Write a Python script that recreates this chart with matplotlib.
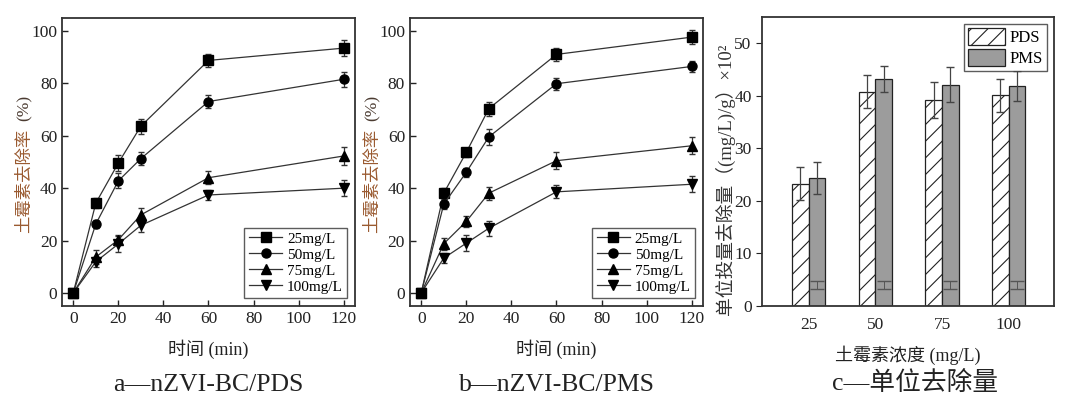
"""
Oxytetracycline removal by nZVI-BC with PDS / PMS: kinetics (a, b) and unit removal (c).
"""

import matplotlib
matplotlib.use("Agg")
import matplotlib.pyplot as plt
from matplotlib.lines import Line2D
import numpy as np

plt.rcParams["font.family"] = ["Liberation Serif", "Noto Sans CJK SC"]
plt.rcParams["hatch.linewidth"] = 0.8

# ── data ────────────────────────────────────────────────────
time_min = [0, 10, 20, 30, 60, 120]
conc_labels = ["25mg/L", "50mg/L", "75mg/L", "100mg/L"]
markers = ["s", "o", "^", "v"]

pds_removal = [
    [0, 34.3, 49.6, 63.7, 88.8, 93.5],
    [0, 26.3, 42.8, 51.3, 73.1, 81.6],
    [0, 13.7, 20.3, 29.8, 44.0, 52.3],
    [0, 11.9, 18.7, 25.8, 37.4, 40.0],
]
pds_err = [
    [0.8, 2.0, 3.0, 2.9, 2.5, 3.2],
    [0.8, 1.5, 2.9, 2.6, 2.4, 2.8],
    [0.8, 2.8, 2.0, 2.5, 2.5, 3.5],
    [0.8, 2.0, 3.0, 2.7, 2.0, 3.1],
]

pms_removal = [
    [0, 38.1, 53.7, 70.4, 91.1, 97.7],
    [0, 33.9, 46.1, 59.6, 79.9, 86.5],
    [0, 18.8, 27.3, 38.1, 50.5, 56.2],
    [0, 13.3, 19.0, 24.7, 38.6, 41.5],
]
pms_err = [
    [0.8, 2.0, 1.7, 2.7, 2.5, 2.7],
    [0.8, 2.0, 1.8, 3.0, 2.3, 2.0],
    [0.8, 2.3, 2.2, 2.5, 3.2, 3.2],
    [0.8, 2.0, 3.0, 2.8, 2.5, 3.0],
]

bar_cats = ["25", "50", "75", "100"]
unit_pds = [23.3, 40.8, 39.2, 40.1]
unit_pds_err = [3.2, 3.1, 3.5, 3.2]
unit_pms = [24.4, 43.2, 42.1, 41.9]
unit_pms_err = [3.0, 2.5, 3.3, 2.8]
pms_base = [4.0, 4.0, 4.0, 4.0]
pms_base_err = [0.7, 0.7, 0.7, 0.7]

TXT = "#222222"
LABEL_BROWN = "#9a5a30"

fig = plt.figure(figsize=(10.8, 4.03), dpi=100)


def kinetics_panel(rect, series, errs, caption):
    ax = fig.add_axes(rect)
    handles = []
    for vals, err, m, lab in zip(series, errs, markers, conc_labels):
        ax.errorbar(time_min, vals, yerr=err, fmt=m + "-", color="#333333",
                    mfc="black", mec="black", ms=6.5, lw=0.9,
                    elinewidth=0.9, capsize=2.5)
        handles.append(Line2D([], [], marker=m, color="#333333", mfc="black",
                              mec="black", ms=6.5, lw=0.9, label=lab))
    ax.set_xlim(-5, 125)
    ax.set_ylim(-5, 105)
    ax.set_xticks([0, 20, 40, 60, 80, 100, 120])
    ax.set_yticks([0, 20, 40, 60, 80, 100])
    ax.tick_params(direction="in", length=4, labelsize=12.5, colors=TXT, width=1)
    for s in ax.spines.values():
        s.set_linewidth(1.3)
        s.set_color("#333333")
    ax.set_xlabel("时间 (min)", fontsize=13, color=TXT, labelpad=9)
    leg = ax.legend(handles=handles, loc="lower right", fontsize=11,
                    frameon=True, fancybox=False, edgecolor="#333333",
                    borderpad=0.3, labelspacing=0.15, handlelength=2.2,
                    handletextpad=0.3, borderaxespad=0.5)
    leg.get_frame().set_linewidth(1.0)
    bb = ax.get_position()
    xl = bb.x0 - 37 / 1080
    fig.text(xl, 0.551, "土霉素去除率", rotation=90, ha="center", va="center",
             fontsize=12.5, color=LABEL_BROWN)
    fig.text(xl, 0.732, "(%)", rotation=90, ha="center", va="center",
             fontsize=12.5, color="#4a3a30")
    fig.text(bb.x0 + bb.width / 2, 0.045, caption, ha="center", va="center",
             fontsize=18.5, color=TXT)
    return ax


kinetics_panel([0.0574, 0.2407, 0.2713, 0.7146], pds_removal, pds_err,
               "a—nZVI-BC/PDS")
kinetics_panel([0.3796, 0.2407, 0.2713, 0.7146], pms_removal, pms_err,
               "b—nZVI-BC/PMS")

# ── Chart c: unit removal bars ─────────────────────────────
axc = fig.add_axes([0.7056, 0.2407, 0.2704, 0.7170])
x = np.arange(len(bar_cats))
w = 0.25
axc.bar(x - w / 2, unit_pds, w, facecolor="white", edgecolor="#222222",
        hatch="//", lw=0.9, label="PDS")
axc.bar(x + w / 2, unit_pms, w, facecolor="#9c9c9c", edgecolor="#222222",
        lw=0.9, label="PMS")
axc.errorbar(x - w / 2, unit_pds, yerr=unit_pds_err, fmt="none",
             ecolor="#444444", elinewidth=0.9, capsize=3)
axc.errorbar(x + w / 2, unit_pms, yerr=unit_pms_err, fmt="none",
             ecolor="#444444", elinewidth=0.9, capsize=3)
axc.errorbar(x + w / 2, pms_base, yerr=pms_base_err, fmt="none",
             ecolor="#555555", elinewidth=0.7, capsize=5)
axc.set_xlim(-0.7, 3.68)
axc.set_ylim(0, 55)
axc.set_xticks(x)
axc.set_xticklabels(bar_cats)
axc.set_yticks([0, 10, 20, 30, 40, 50])
axc.tick_params(axis="y", direction="out", length=4, labelsize=12.5, colors=TXT)
axc.tick_params(axis="x", length=0, labelsize=12.5, colors=TXT, pad=8)
for s in axc.spines.values():
    s.set_linewidth(1.3)
    s.set_color("#333333")
axc.set_xlabel("土霉素浓度 (mg/L)", fontsize=13, color=TXT, labelpad=9)
legc = axc.legend(loc="upper right", fontsize=12, frameon=True, fancybox=False,
                  edgecolor="#333333", borderpad=0.25, labelspacing=0.15,
                  handlelength=2.2, handleheight=1.2, handletextpad=0.3,
                  borderaxespad=0.4)
legc.get_frame().set_linewidth(1.0)
fig.text(725 / 1080, 0.555, "单位投量去除量（(mg/L)/g）×10²", rotation=90,
         ha="center", va="center", fontsize=13.5, color="#333333")
fig.text(915 / 1080, 0.05, "c—单位去除量", ha="center", va="center",
         fontsize=18.5, color=TXT)

fig.savefig("out.png", dpi=100)
